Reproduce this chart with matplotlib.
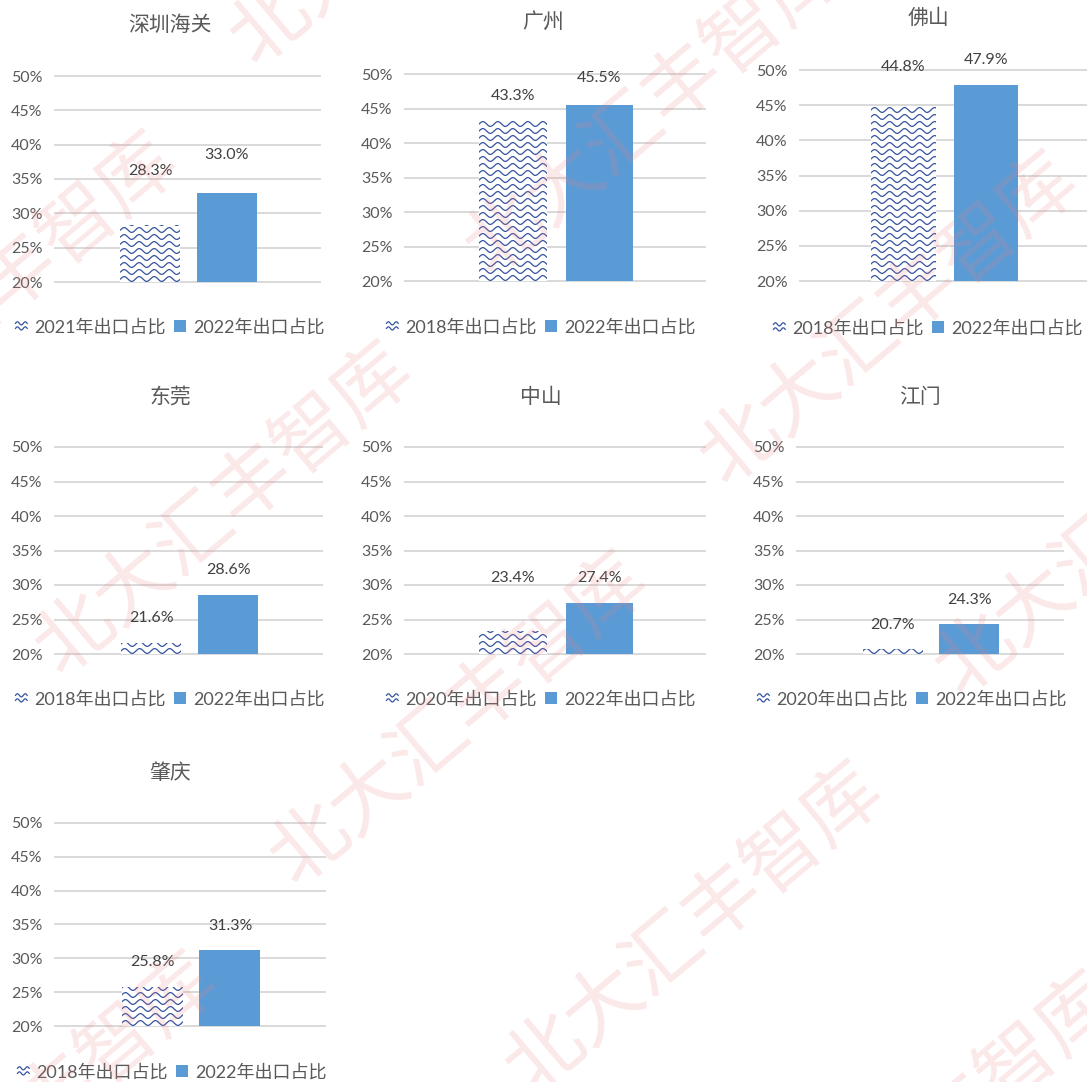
import numpy as np
import matplotlib
matplotlib.use("Agg")
import matplotlib.pyplot as plt
from matplotlib.lines import Line2D
from matplotlib.patches import Patch
from matplotlib.legend_handler import HandlerBase

plt.rcParams['font.family'] = ['Lato', 'Noto Sans CJK SC', 'DejaVu Sans']

# ---------------- data ----------------
cities = ['深圳海关', '广州', '佛山', '东莞', '中山', '江门', '肇庆']
base_years = ['2021', '2018', '2018', '2018', '2020', '2020', '2018']
base_values = [28.3, 43.3, 44.8, 21.6, 23.4, 20.7, 25.8]
values_2022 = [33.0, 45.5, 47.9, 28.6, 27.4, 24.3, 31.3]
series_2022_name = '2022年出口占比'
ytick_values = [20, 25, 30, 35, 40, 45, 50]

# ---------------- style / layout ----------------
W, H = 1087, 1082
BLUE = '#5b9bd5'
WAVE = '#34539f'
GRID = '#d9d9d9'
TXT = '#595959'
LBL = '#404040'

# axes boxes in pixels: left, right, top, bottom
boxes = [(55, 320, 76, 282), (405, 705, 74, 281), (800, 1087, 70, 281),
         (55, 322, 447, 654), (405, 705, 447, 654), (797, 1063, 447, 654),
         (55, 325, 823, 1026)]
title_pos = [(170, 25), (543, 22), (928, 18), (170, 397), (541, 397), (920, 397), (170, 773)]
legend_pos = [(170, 327), (541, 327), (928, 328), (170, 699), (541, 699), (912, 699), (172, 1072)]
label_off = [(54, 38), (24, 27), (40, 25), (25, 25), (53, 25), (24, 24), (25, 24)]
XPOS = (-0.14, 0.148)
BW = 0.226


class WaveHandler(HandlerBase):
    def create_artists(self, legend, orig_handle, xdescent, ydescent,
                       width, height, fontsize, trans):
        arts = []
        t = np.linspace(0, 1, 40)
        for frac in (0.3, 0.72):
            x = -xdescent + t * width
            y = -ydescent + height * frac + 0.13 * height * np.sin(2 * np.pi * t * 1.5)
            arts.append(Line2D(x, y, color=WAVE, lw=0.9, transform=trans))
        return arts


fig = plt.figure(figsize=(W / 100, H / 100), dpi=100)
fig.patch.set_facecolor('white')

for i, city in enumerate(cities):
    l, r, t, b = boxes[i]
    ax = fig.add_axes([l / W, 1 - b / H, (r - l) / W, (b - t) / H])
    ymin, ymax = ytick_values[0], ytick_values[-1]
    ax.set_xlim(-0.5, 0.5)
    ax.set_ylim(ymin, ymax)
    for s in ax.spines.values():
        s.set_visible(False)
    ax.set_xticks([])
    ax.set_yticks(ytick_values)
    ax.set_yticklabels([f'{v}%' for v in ytick_values], fontsize=11.5, color=TXT)
    ax.tick_params(axis='y', length=0, pad=9)
    ax.yaxis.grid(True, color=GRID, lw=1.4)
    ax.set_axisbelow(True)
    for gl in ax.get_ygridlines():
        gl.set_clip_on(False)

    vals = [base_values[i], values_2022[i]]
    # hatched (wavy) bar
    hb = ax.bar(XPOS[0], vals[0] - ymin, bottom=ymin, width=BW,
                facecolor='white', edgecolor='none', zorder=2)[0]
    sb = ax.bar(XPOS[1], vals[1] - ymin, bottom=ymin, width=BW,
                facecolor=BLUE, edgecolor='none', zorder=2)[0]

    wpx, hpx = (r - l), (b - t)
    dxp = 1.0 / wpx
    dyp = (ymax - ymin) / hpx
    xs = np.linspace(XPOS[0] - BW / 2, XPOS[0] + BW / 2, 300)
    xpx = (xs - xs[0]) / dxp
    k = 0
    while True:
        base = ymin + (3 + 7 * k) * dyp
        if base - 3 * dyp > vals[0]:
            break
        ys = base + 2.4 * np.sin(2 * np.pi * xpx / 15.0) * dyp
        ln, = ax.plot(xs, ys, color=WAVE, lw=0.9, zorder=3)
        ln.set_clip_path(hb)
        k += 1

    for j, v in enumerate(vals):
        ax.annotate(f'{v:.1f}%', (XPOS[j], v), xytext=(0, label_off[i][j]),
                    textcoords='offset pixels', ha='center', va='center',
                    fontsize=11.5, color=LBL, annotation_clip=False, zorder=4)

    tx, ty = title_pos[i]
    fig.text(tx / W, 1 - ty / H, city, ha='center', va='center',
             fontsize=15, color=TXT, family=['Noto Sans CJK SC'])

    lx, ly = legend_pos[i]
    handles = [Patch(facecolor='white'), Patch(facecolor=BLUE, edgecolor='none')]
    labels = [f'{base_years[i]}年出口占比', series_2022_name]
    fig.legend(handles, labels, loc='center', bbox_to_anchor=(lx / W, 1 - ly / H),
               ncol=2, frameon=False, fontsize=13, labelcolor=TXT,
               handlelength=0.65, handleheight=0.65, handletextpad=0.4,
               columnspacing=0.45, handler_map={handles[0]: WaveHandler()})

# watermark
wm_text = '北大汇丰智库'
wm_centers = [(-10, 300), (225, 510), (460, 720), (695, 930), (930, 1140),
              (420, -100), (655, 110), (890, 320), (1125, 530), (30, 1120)]
for cx, cy in wm_centers:
    fig.text(cx / W, 1 - cy / H, wm_text, ha='center', va='center', rotation=40,
             rotation_mode='anchor', fontsize=56, color=(0.93, 0.5, 0.5),
             alpha=0.18, family=['Noto Sans CJK SC'], zorder=10)

fig.savefig('out.png', dpi=100, facecolor='white')
